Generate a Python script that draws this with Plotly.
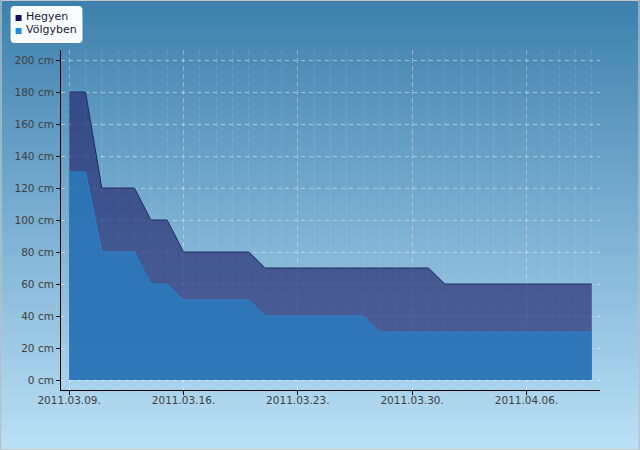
import base64, struct, zlib
import plotly.graph_objects as go

# ---------------- data ----------------
dates = ["2011-03-%02d" % d for d in range(9, 32)] + ["2011-04-%02d" % d for d in range(1, 11)]
hegyen = [180, 180, 120, 120, 120, 100, 100, 80, 80, 80, 80, 80,
          70, 70, 70, 70, 70, 70, 70, 70, 70, 70, 70,
          60, 60, 60, 60, 60, 60, 60, 60, 60, 60]
volgyben = [130, 130, 80, 80, 80, 60, 60, 50, 50, 50, 50, 50,
            40, 40, 40, 40, 40, 40, 40,
            30, 30, 30, 30, 30, 30, 30, 30, 30, 30, 30, 30, 30, 30]
y_ticks = [0, 20, 40, 60, 80, 100, 120, 140, 160, 180, 200]
y_tick_labels = ["%d cm" % v for v in y_ticks]
series_names = ["Hegyen", "Völgyben"]

# ---------------- geometry helpers ----------------
W, H = 640, 450
L, R, T, B = 60.5, 600.5, 50, 390
def px(x):
    return (x - L) / (R - L)
def py(y):
    return (B - y) / (B - T)

# ---------------- gradient background (PNG) ----------------
top = (61, 128, 173)
bot = (186, 224, 246)
rows = b""
for i in range(H):
    t = i / (H - 1)
    c = [round(top[k] + (bot[k] - top[k]) * t) for k in range(3)]
    rows += b"\x00" + bytes(c)
def chunk(tag, data):
    return struct.pack(">I", len(data)) + tag + data + struct.pack(">I", zlib.crc32(tag + data) & 0xffffffff)
png = (b"\x89PNG\r\n\x1a\n" + chunk(b"IHDR", struct.pack(">IIBBBBB", 1, H, 8, 2, 0, 0, 0))
       + chunk(b"IDAT", zlib.compress(rows)) + chunk(b"IEND", b""))
grad_src = "data:image/png;base64," + base64.b64encode(png).decode()

FONT = "DejaVu Sans"
x_range = ["2011-03-08 12:00", "2011-04-10 12:00"]
y_range = [-6.25, 206.25]

fig = go.Figure()
fig.add_trace(go.Scatter(
    x=dates, y=hegyen, name=series_names[0], mode="lines", fill="tozeroy",
    line=dict(color="#1b2a6b", width=1), fillcolor="rgba(32,36,107,0.65)",
    showlegend=False, hoverinfo="x+y"))
fig.add_trace(go.Scatter(
    x=dates, y=volgyben, name=series_names[1], mode="lines", fill="tozeroy",
    line=dict(color="rgba(40,132,212,0.95)", width=1), fillcolor="rgba(40,125,192,0.8)",
    showlegend=False, hoverinfo="x+y"))

shapes = []
# legend box (rounded)
x0, x1, y0, y1, r = 10, 82, 6, 43, 4
rx, ry = r / (R - L), r / (B - T)
X0, X1, Y0, Y1 = px(x0), px(x1), py(y1), py(y0)
path = (f"M {X0+rx},{Y0} L {X1-rx},{Y0} Q {X1},{Y0} {X1},{Y0+ry} L {X1},{Y1-ry} "
        f"Q {X1},{Y1} {X1-rx},{Y1} L {X0+rx},{Y1} Q {X0},{Y1} {X0},{Y1-ry} "
        f"L {X0},{Y0+ry} Q {X0},{Y0} {X0+rx},{Y0} Z")
shapes.append(dict(type="path", xref="paper", yref="paper", path=path,
                   fillcolor="#f8fcff", line=dict(width=0), layer="above"))
for (sy, col) in [(15, "#10105e"), (28, "#2090dd")]:
    shapes.append(dict(type="rect", xref="paper", yref="paper",
                       x0=px(15), x1=px(21), y0=py(sy + 6), y1=py(sy),
                       fillcolor=col, line=dict(width=0), layer="above"))
# outer border
shapes.append(dict(type="rect", xref="paper", yref="paper",
                   x0=px(0.5), x1=px(639.5), y0=py(449.5), y1=py(0.5),
                   line=dict(color="#c8c8c8", width=1), fillcolor="rgba(0,0,0,0)", layer="above"))

annotations = []
for name, ty in zip(series_names, [17, 30]):
    annotations.append(dict(text=name, xref="paper", yref="paper", x=px(23), y=py(ty),
                            xanchor="left", yanchor="middle", showarrow=False,
                            font=dict(family=FONT, size=11, color="#1a1a33")))

fig.update_layout(
    width=W, height=H,
    margin=dict(l=60.5, r=W - R, t=T, b=H - B),
    paper_bgcolor="#7fb5d6", plot_bgcolor="rgba(0,0,0,0)",
    showlegend=False,
    images=[dict(source=grad_src, xref="paper", yref="paper", x=px(0), y=py(0),
                 sizex=W / (R - L), sizey=H / (B - T), sizing="stretch",
                 xanchor="left", yanchor="top", layer="below")],
    shapes=shapes, annotations=annotations,
    font=dict(family=FONT, size=10.5, color="#404040"),
    xaxis=dict(
        type="date", range=x_range,
        tick0="2011-03-09", dtick=7 * 86400000, tickformat="%Y.%m.%d.",
        showline=True, linecolor="black", linewidth=1,
        ticks="outside", ticklen=4, tickcolor="black",
        ticklabelstandoff=-4,
        showgrid=True, gridcolor="rgba(255,255,255,0.35)", griddash="5px,3px",
        zeroline=False,
        minor=dict(dtick=86400000, tick0="2011-03-09", ticks="outside", ticklen=3,
                   tickcolor="#b8c8d4", showgrid=True,
                   gridcolor="rgba(255,255,255,0.13)", griddash="5px,3px"),
        tickfont=dict(family=FONT, size=10.5, color="#404040"),
    ),
    xaxis2=dict(
        type="date", range=x_range, overlaying="x", anchor="y", side="bottom",
        tick0="2011-03-09", dtick=7 * 86400000,
        ticks="inside", ticklen=3, tickcolor="black", showticklabels=False,
        showgrid=False, zeroline=False, showline=False,
    ),
    yaxis=dict(
        range=y_range, tickmode="array", tickvals=y_ticks, ticktext=y_tick_labels,
        showline=True, linecolor="black", linewidth=1,
        ticks="outside", ticklen=4, tickcolor="black",
        showgrid=True, gridcolor="rgba(255,255,255,0.45)", griddash="4px,4px",
        zeroline=False,
        tickfont=dict(family=FONT, size=10.5, color="#404040"),
    ),
    yaxis2=dict(
        range=y_range, overlaying="y", anchor="x", side="left",
        tickmode="array", tickvals=y_ticks,
        ticks="inside", ticklen=3, tickcolor="black", showticklabels=False,
        showgrid=False, zeroline=False, showline=False,
    ),
)

fig.write_html("out.html")
